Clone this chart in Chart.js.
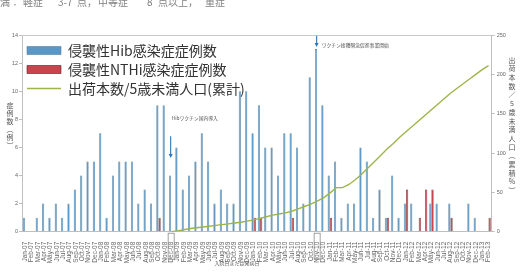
<!DOCTYPE html>
<html>
<head>
<meta charset="UTF-8">
<title>侵襲性Hib・NTHi感染症症例数と出荷本数</title>
<script src="https://cdn.jsdelivr.net/npm/chart.js@4.4.1/dist/chart.umd.min.js"></script>
<style>
  html, body { margin: 0; padding: 0; background: #fff; }
  #wrap { width: 521px; height: 274px; position: relative; }
</style>
</head>
<body>
<div id="wrap"><canvas id="c"></canvas></div>
<script>
var monthLabels = [
  'Jan-07','Feb-07','Mar-07','Apr-07','May-07','Jun-07','Jul-07','Aug-07','Sep-07','Oct-07','Nov-07','Dec-07',
  'Jan-08','Feb-08','Mar-08','Apr-08','May-08','Jun-08','Jul-08','Aug-08','Sep-08','Oct-08','Nov-08','Dec-08',
  'Jan-09','Feb-09','Mar-09','Apr-09','May-09','Jun-09','Jul-09','Aug-09','Sep-09','Oct-09','Nov-09','Dec-09',
  'Jan-10','Feb-10','Mar-10','Apr-10','May-10','Jun-10','Jul-10','Aug-10','Sep-10','Oct-10','Nov-10','Dec-10',
  'Jan-11','Feb-11','Mar-11','Apr-11','May-11','Jun-11','Jul-11','Aug-11','Sep-11','Oct-11','Nov-11','Dec-11',
  'Jan-12','Feb-12','Mar-12','Apr-12','May-12','Jun-12','Jul-12','Aug-12','Sep-12','Oct-12','Nov-12','Dec-12',
  'Jan-13','Feb-13'
];

// 侵襲性Hib感染症症例数 (例)
var hibCases = [
  1, 0, 1, 2, 1, 2, 1, 2, 3, 4, 5, 5,
  7, 1, 4, 5, 5, 5, 2, 3, 2, 9, 9, 4,
  6, 3, 4, 5, 7, 5, 2, 3, 2, 2, 10, 10,
  7, 9, 6, 6, 4, 7, 7, 6, 2, 11, 13, 9,
  4, 5, 1, 2, 2, 6, 5, 1, 3, 1, 4, 1,
  2, 2, 0, 0, 2, 2, 0, 2, 0, 0, 2, 1,
  0, 0
];

// 侵襲性NTHi感染症症例数 (例)
var nthiCases = [
  0, 0, 0, 0, 0, 0, 0, 0, 0, 0, 0, 0,
  0, 0, 0, 0, 0, 0, 0, 0, 0, 1, 0, 0,
  0, 0, 0, 0, 0, 0, 0, 0, 0, 0, 0, 0,
  1, 1, 0, 0, 0, 0, 1, 0, 0, 0, 0, 0,
  1, 0, 0, 0, 0, 0, 0, 0, 0, 1, 0, 0,
  3, 0, 1, 3, 3, 0, 0, 1, 0, 0, 0, 0,
  0, 1
];

// 出荷本数/5歳未満人口 (累積%)
var shipmentRate = [
  null, null, null, null, null, null, null, null, null, null, null, null,
  null, null, null, null, null, null, null, null, null, null, null, 0,
  1, 2.5, 4, 5, 6, 7, 8, 9, 10, 11, 12, 13.5,
  15, 17, 19, 21, 22.5, 24, 26, 29, 32, 35, 39, 43,
  49, 56, 56, 60, 66, 73, 81, 89, 97, 105, 112, 120,
  127, 134, 141, 148, 155, 162, 169, 176, 182, 188, 194, 200,
  206, 211
];

var seriesNames = ['侵襲性Hib感染症症例数', '侵襲性NTHi感染症症例数', '出荷本数/5歳未満人口(累計)'];
var leftTitle = ['症', '例', '数', '︵', '例', '︶'];
var rightTitle = ['出', '荷', '本', '数', '／', '5', '歳', '未', '満', '人', '口', '︵', '累', '積', '%', '︶'];
var xTitle = '入院日または発病日';
var eventLabels = ['Hibワクチン国内導入', 'ワクチン接種緊急促進事業開始'];
var eventMonths = [23, 46];
var captionParts = ['満：', '軽症', '3-7', '点，', '中等症', '8', '点以上，', '重症'];

var CJK = '"Noto Sans CJK JP", "Noto Sans", sans-serif';
var LAT = '"Liberation Sans", Arial, sans-serif';

function arrowDown(ctx, x, y0, y1) {
  ctx.beginPath();
  ctx.moveTo(x, y0);
  ctx.lineTo(x, y1 - 3);
  ctx.stroke();
  ctx.beginPath();
  ctx.moveTo(x - 2, y1 - 4);
  ctx.lineTo(x + 2, y1 - 4);
  ctx.lineTo(x, y1);
  ctx.closePath();
  ctx.fill();
}

var decor = {
  id: 'decor',
  afterDraw: function(chart) {
    var ctx = chart.ctx, a = chart.chartArea;
    var xs = chart.scales.x, ys = chart.scales.y;
    ctx.save();

    // top edge of the plot frame
    ctx.strokeStyle = '#c8c8c8';
    ctx.lineWidth = 1;
    ctx.beginPath();
    ctx.moveTo(a.left, a.top + 0.5);
    ctx.lineTo(a.right, a.top + 0.5);
    ctx.stroke();

    // caption cut off at the top of the picture
    ctx.fillStyle = '#808080';
    ctx.font = '10px ' + CJK;
    ctx.textBaseline = 'middle';
    ctx.textAlign = 'left';
    var capX = [0, 23, 58, 77, 98, 147, 158, 205];
    captionParts.forEach(function(t, i) { ctx.fillText(t, capX[i], 2); });

    // vertical axis titles
    ctx.fillStyle = '#555';
    ctx.font = '7px ' + CJK;
    ctx.textAlign = 'center';
    leftTitle.forEach(function(ch, i) { ctx.fillText(ch, 10, 105 + i * 8.1); });
    rightTitle.forEach(function(ch, i) { ctx.fillText(ch, 512, 60 + i * 8.7); });

    // x axis title
    ctx.font = '5px ' + CJK;
    ctx.fillText(xTitle, 237, 263);

    // event markers
    ctx.strokeStyle = '#2e75b6';
    ctx.fillStyle = '#2e75b6';
    ctx.lineWidth = 1.1;
    var x0 = xs.getPixelForValue(eventMonths[0]) - 0.5;
    arrowDown(ctx, x0, ys.getPixelForValue(6.8), ys.getPixelForValue(5.25));
    var x1 = xs.getPixelForValue(eventMonths[1]) - 0.5;
    arrowDown(ctx, x1, ys.getPixelForValue(13.95), ys.getPixelForValue(13.15));

    ctx.fillStyle = '#555';
    ctx.font = '4.8px ' + CJK;
    ctx.textAlign = 'left';
    ctx.fillText(eventLabels[0], x0 + 1, ys.getPixelForValue(8.1));
    ctx.fillText(eventLabels[1], x1 + 5, ys.getPixelForValue(13.3));

    // boxes round the event month labels
    ctx.strokeStyle = '#8a8a8a';
    ctx.lineWidth = 0.8;
    eventMonths.forEach(function(m) {
      var cx = xs.getPixelForValue(m);
      ctx.strokeRect(cx - 3, a.bottom + 1.5, 6, 26);
    });

    ctx.restore();
  }
};

new Chart(document.getElementById('c'), {
  type: 'bar',
  data: {
    labels: monthLabels,
    datasets: [
      {
        label: seriesNames[0],
        data: hibCases,
        yAxisID: 'y',
        backgroundColor: '#5b97c6',
        borderColor: '#55819f',
        borderWidth: 0.6,
        categoryPercentage: 0.7,
        barPercentage: 1,
        pointStyle: 'rect',
        order: 1
      },
      {
        label: seriesNames[1],
        data: nthiCases,
        yAxisID: 'y',
        backgroundColor: '#c9454c',
        borderColor: '#5a1c24',
        borderWidth: 0.6,
        categoryPercentage: 0.7,
        barPercentage: 1,
        pointStyle: 'rect',
        order: 1
      },
      {
        type: 'line',
        label: seriesNames[2],
        data: shipmentRate,
        yAxisID: 'y1',
        borderColor: '#9db548',
        backgroundColor: '#9db548',
        borderWidth: 1.4,
        pointRadius: 0,
        tension: 0,
        pointStyle: 'line',
        order: 0
      }
    ]
  },
  options: {
    responsive: true,
    maintainAspectRatio: false,
    animation: false,
    devicePixelRatio: 1,
    layout: { padding: { top: 35, left: 0, right: 0, bottom: 0 } },
    plugins: {
      tooltip: { enabled: false },
      legend: {
        position: 'chartArea',
        align: 'start',
        // empty title only pushes the items down inside the plot
        title: { display: true, text: '', font: { size: 3, lineHeight: 1 }, padding: { top: 35.5, bottom: 0 } },
        labels: {
          usePointStyle: true,
          pointStyleWidth: 34,
          boxHeight: 8,
          padding: 5,
          color: '#333',
          font: { family: CJK, size: 14 },
          sort: function(a, b) { return a.datasetIndex - b.datasetIndex; }
        }
      }
    },
    scales: {
      x: {
        offset: true,
        grid: { display: false },
        border: { display: true, color: '#bfbfbf' },
        ticks: {
          autoSkip: false,
          maxRotation: 90,
          minRotation: 90,
          padding: 2,
          color: '#666',
          font: { family: LAT, size: 6.5 }
        },
        afterFit: function(s) { s.height = 42.3; }
      },
      y: {
        position: 'left',
        min: 0,
        max: 14,
        ticks: { stepSize: 2, padding: 1, color: '#666', font: { family: LAT, size: 5.5 } },
        grid: { drawOnChartArea: false, tickLength: 3, color: '#bfbfbf' },
        border: { color: '#bfbfbf' },
        afterFit: function(s) { s.width = 22; }
      },
      y1: {
        position: 'right',
        min: 0,
        max: 250,
        ticks: { stepSize: 50, padding: 2, color: '#666', font: { family: LAT, size: 5.5 } },
        grid: { drawOnChartArea: false, tickLength: 3, color: '#bfbfbf' },
        border: { color: '#bfbfbf' },
        afterFit: function(s) { s.width = 29.3; }
      }
    }
  },
  plugins: [decor]
});
</script>
</body>
</html>
